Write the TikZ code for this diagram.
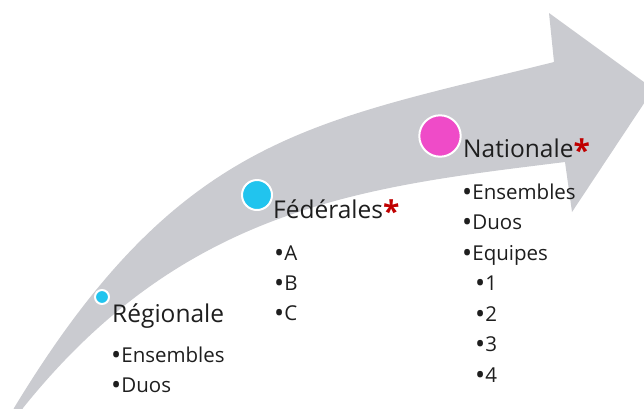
\documentclass[tikz,border=0pt]{standalone}
\usepackage{fontspec}
\setmainfont{Open Sans}
\definecolor{arrowgray}{RGB}{202,203,208}
\definecolor{dotcyan}{RGB}{33,196,238}
\definecolor{dotpink}{RGB}{239,75,200}
\definecolor{starred}{RGB}{192,0,0}
\definecolor{ink}{RGB}{30,30,30}
\tikzset{
  stage/.style={anchor=base west,inner sep=0pt,text=ink,font=\fontsize{24.5}{24.5}\selectfont},
  entry/.style={anchor=base west,inner sep=0pt,text=ink,font=\fontsize{20.5}{20.5}\selectfont},
  dot/.style={circle,draw=white,line width=2pt,inner sep=0pt}
}
\newcommand{\redstar}{{\color{starred}\bfseries\fontsize{30}{30}\selectfont\raisebox{-4pt}{*}}}
\newcommand{\bul}{{\fontsize{27}{27}\selectfont\raisebox{-2pt}{•}}}

\begin{document}
\begin{tikzpicture}[x=1pt,y=-1pt]
      \useasboundingbox (0,0) rectangle (644,408);
      \clip (0,0) rectangle (644,408);
      \fill[arrowgray] (9,420) -- (14,408) .. controls (179.8,134.4) and (311.5,122.7) .. (554,62)
        -- (549,13) -- (653.5,89) -- (572,212) -- (565,162)
        .. controls (366.6,186.6) and (185.5,205.2) .. (23,408) -- (18,420) -- cycle;
      \node[dot,fill=dotcyan,minimum size=14pt] (regdot) at (102,297) {};
      \node[dot,fill=dotcyan,minimum size=30pt] (feddot) at (257,195) {};
      \node[dot,fill=dotpink,minimum size=41.4pt] (natdot) at (440,136) {};
      \node[stage] (reg) at (112,322) {Régionale};
      \node[stage] (fed) at (273,218) {Fédérales\redstar};
      \node[stage] (nat) at (463,157) {Nationale\redstar};
      \foreach \t [count=\i] in {Ensembles,Duos}
      \node[entry] (reg\i) at (111,332+30*\i) {\bul\t};
      \foreach \t [count=\i] in {A,B,C}
      \node[entry] (fed\i) at (274,230+30*\i) {\bul\t};
      \foreach \t [count=\i] in {Ensembles,Duos,Equipes}
      \node[entry] (nat\i) at (462,168.5+30.5*\i) {\bul\t};
      \foreach \t [count=\i] in {1,2,3,4}
      \node[entry] (team\i) at (475,260+30.5*\i) {\bul\t};
    \end{tikzpicture}
\end{document}
